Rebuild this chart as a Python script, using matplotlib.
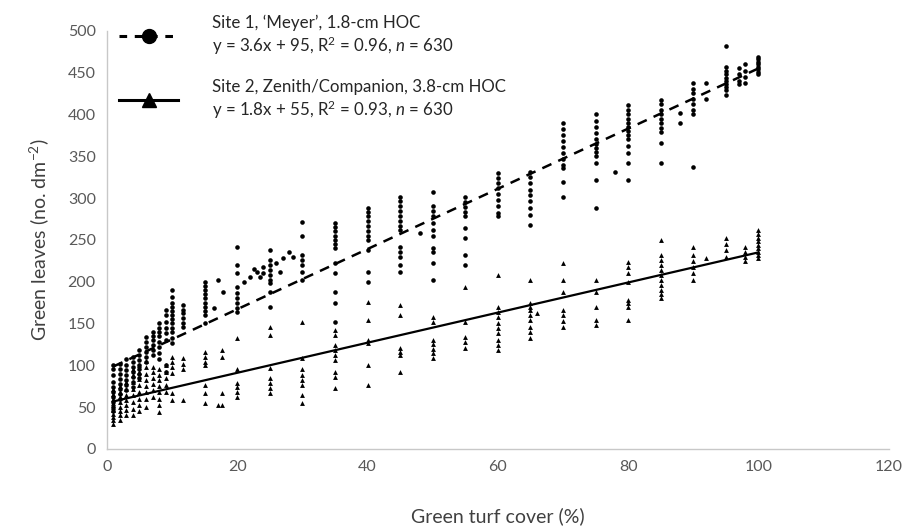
import matplotlib
matplotlib.use("Agg")
import matplotlib.pyplot as plt
from matplotlib.lines import Line2D

plt.rcParams['font.family'] = ['Lato', 'DejaVu Sans']
plt.rcParams['mathtext.fontset'] = 'custom'
plt.rcParams['mathtext.rm'] = 'Lato'
plt.rcParams['mathtext.it'] = 'Lato:italic'

# Site 1 ('Meyer', circles): x column -> leaf counts
s1_x = [1, 2, 3, 4, 5, 6, 7, 8, 9, 10, 11.7, 15, 16.5, 17, 17.8, 20,
        21, 22, 22.5, 23, 23.5, 24, 26, 26.5, 27, 28, 28.5,
        25, 30, 35, 40, 45, 48, 50, 55, 60, 65, 70, 75, 78, 80, 85, 88,
        90, 92, 95, 97, 98, 100]
s1_y = [
    [100, 95, 88, 80, 74, 68, 62, 56, 50, 45],
    [102, 96, 90, 84, 78, 72, 66, 60],
    [108, 100, 94, 88, 82, 76, 70],
    [110, 104, 98, 92, 86, 80, 74],
    [118, 112, 106, 100, 95, 90, 85],
    [134, 128, 122, 116, 110, 104],
    [140, 135, 130, 124, 118, 112],
    [150, 145, 140, 135, 128, 122, 115, 108],
    [166, 160, 152, 145, 138, 130, 100, 92],
    [190, 182, 175, 170, 165, 160, 155, 150, 145, 140, 133, 127],
    [172, 166, 162, 157, 150, 146],
    [200, 195, 190, 185, 180, 175, 170, 165, 160, 151],
    [169],
    [202],
    [188],
    [242, 220, 210, 193, 186, 180, 174, 168, 164],
    [200],
    [205],
    [215],
    [212],
    [205],
    [218, 210],
    [222],
    [212],
    [228],
    [235],
    [230],
    [238, 226, 220, 214, 208, 202, 198, 188, 170],
    [271, 254, 232, 226, 220, 212, 202],
    [270, 265, 260, 255, 250, 245, 240, 222, 210, 188, 175, 152],
    [288, 283, 278, 272, 266, 260, 255, 250, 238, 212, 200],
    [301, 296, 290, 284, 278, 272, 266, 262, 242, 236, 230, 220, 212],
    [258],
    [307, 290, 284, 278, 270, 262, 254, 240, 236, 222, 202],
    [301, 295, 289, 283, 278, 264, 252, 232, 220],
    [330, 324, 318, 312, 305, 298, 290, 282, 278],
    [331, 325, 318, 310, 303, 296, 288, 280, 268],
    [390, 382, 375, 368, 361, 354, 347, 340, 336, 319, 301],
    [400, 392, 385, 378, 370, 365, 360, 355, 350, 342, 322, 288],
    [331],
    [411, 405, 400, 395, 390, 385, 380, 375, 370, 362, 354, 342, 322],
    [417, 412, 405, 400, 395, 390, 384, 379, 366, 342],
    [402, 390],
    [438, 430, 425, 418, 412, 405, 400, 337],
    [438, 418],
    [482, 457, 452, 448, 444, 440, 436, 433, 429, 423],
    [455, 448, 440, 436],
    [460, 452, 445, 438],
    [448, 451, 454, 457, 460, 463, 466, 469],
]

# Site 2 (Zenith/Companion, triangles)
s2_x = [1, 2, 3, 4, 5, 6, 7, 8, 9, 10, 11.7, 15, 17, 17.7, 20, 25, 30,
        35, 40, 45, 50, 55, 60, 65, 66, 70, 75, 80, 85, 90, 92, 95, 98, 100]
s2_y = [
    [72, 66, 60, 55, 50, 46, 42, 38, 34, 30],
    [75, 68, 62, 56, 50, 45, 40, 35],
    [80, 72, 65, 58, 52, 46, 40],
    [95, 88, 80, 72, 64, 56, 48, 40],
    [100, 92, 84, 76, 68, 60, 52, 45],
    [105, 98, 90, 82, 75, 68, 60, 50],
    [98, 92, 85, 78, 70, 62],
    [96, 88, 82, 75, 68, 60, 52, 44],
    [100, 92, 85, 76, 68],
    [110, 104, 98, 91, 67, 59],
    [109, 102, 95, 59],
    [116, 110, 104, 100, 77, 67, 55],
    [53],
    [118, 110, 67, 53],
    [133, 95, 79, 74, 68, 62],
    [146, 136, 97, 85, 79, 73, 67],
    [152, 109, 95, 88, 82, 77, 65, 55],
    [142, 136, 124, 118, 112, 106, 92, 86, 73],
    [176, 154, 130, 127, 100, 77],
    [172, 160, 121, 116, 112, 92],
    [158, 152, 130, 125, 120, 115, 109],
    [193, 152, 134, 128, 121],
    [208, 170, 164, 158, 150, 144, 138, 130, 124, 118],
    [202, 175, 170, 166, 160, 154, 146, 140, 133],
    [163],
    [222, 202, 188, 166, 160, 153, 146],
    [202, 188, 170, 154, 148],
    [224, 217, 210, 200, 178, 174, 170, 154],
    [250, 232, 226, 220, 214, 208, 202, 196, 190, 185, 181],
    [242, 232, 225, 218, 210, 202],
    [228],
    [252, 245, 238, 230],
    [242, 236, 230, 225],
    [262, 257, 252, 248, 244, 240, 236, 232, 228],
]

# linear fits (slope, intercept) and fitted x range
fit1 = (3.6, 95)
fit2 = (1.8, 55)
fit_x = [1, 100]

label1 = "Site 1, \u2018Meyer\u2019, 1.8-cm HOC\ny = 3.6x + 95, R$^2$ = 0.96, $n$ = 630"
label2 = "Site 2, Zenith/Companion, 3.8-cm HOC\ny = 1.8x + 55, R$^2$ = 0.93, $n$ = 630"

fig = plt.figure(figsize=(9.06, 5.30), dpi=100)
ax = fig.add_axes([0.118, 0.153, 0.863, 0.789])

for x, ys in zip(s1_x, s1_y):
    ax.plot([x] * len(ys), ys, 'o', color='black', ms=3.3, mew=0, ls='none')
for x, ys in zip(s2_x, s2_y):
    ax.plot([x] * len(ys), ys, '^', color='black', ms=3.5, mew=0, ls='none')

ax.plot(fit_x, [fit1[0] * v + fit1[1] for v in fit_x], color='black', lw=1.8,
        dashes=(4, 3))
ax.plot(fit_x, [fit2[0] * v + fit2[1] for v in fit_x], color='black', lw=1.6)

ax.set_xlim(0, 120)
ax.set_ylim(0, 500)
ax.set_xticks(range(0, 121, 20))
ax.set_yticks(range(0, 501, 50))
for s in ['top', 'right']:
    ax.spines[s].set_visible(False)
for s in ['left', 'bottom']:
    ax.spines[s].set_color('#c8c8c8')
    ax.spines[s].set_linewidth(1.0)
ax.tick_params(length=0, labelsize=11.5, labelcolor='#595959', pad=8)

ax.set_xlabel("Green turf cover (%)", fontsize=14, color='#404040', labelpad=24)
ax.set_ylabel("Green leaves (no. dm$^{-2}$)", fontsize=14, color='#404040', labelpad=12)

handles = [
    Line2D([], [], color='black', lw=2.2, dashes=(2.5, 2.5), marker='o', ms=10),
    Line2D([], [], color='black', lw=2.2, marker='^', ms=10),
]
leg = ax.legend(handles, [label1, label2], loc='upper left',
                bbox_to_anchor=(0.007, 1.055), frameon=False, fontsize=12.2,
                handlelength=3.5, handletextpad=1.95, labelspacing=1.3,
                borderaxespad=0)
for t in leg.get_texts():
    t.set_color('#262626')

fig.savefig("out.png", dpi=100)
